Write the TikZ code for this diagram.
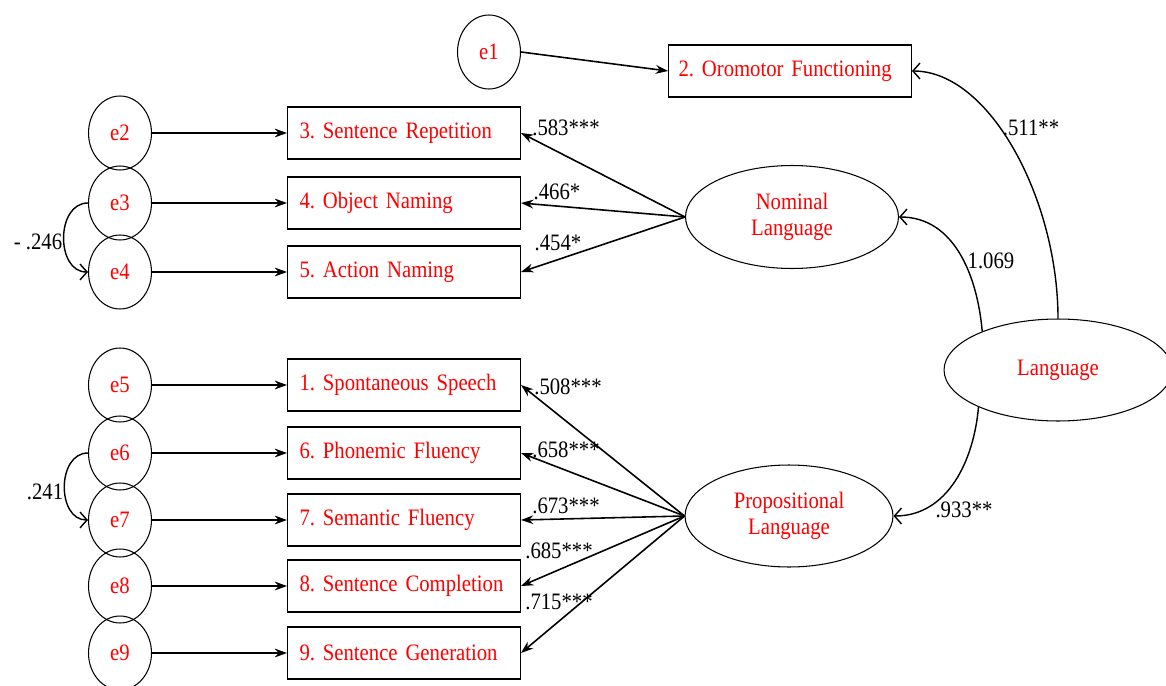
\documentclass[tikz,border=0pt]{standalone}
\usepackage{fontspec}
\setmainfont{Liberation Serif}[FakeStretch=0.88]
\usetikzlibrary{arrows.meta,shapes.geometric}
\tikzset{
  err/.style={ellipse, draw, line width=0.6pt, minimum width=1.26cm, minimum height=1.48cm, inner sep=0pt, text=red},
  obs/.style={rectangle, draw, line width=0.6pt, minimum width=4.66cm, minimum height=1.04cm, inner xsep=0.24cm, inner ysep=0pt, text width=4.18cm, align=left, text=red},
  lat/.style={ellipse, draw, line width=0.6pt, inner sep=0pt, align=center, text=red},
  charge/.style={-{Stealth[length=7pt,width=5pt]}, line width=0.9pt},
  courbe/.style={-{Straight Barb[length=4pt,width=9pt]}, line width=0.8pt},
  coef/.style={inner sep=0pt}
}

\begin{document}
\begin{tikzpicture}[x=0.02cm, y=-0.02cm, font=\fontsize{13.4}{15}\selectfont\frenchspacing]
	\useasboundingbox (0,0) rectangle (1166,686);
	% variables observees
	\node[obs, minimum width=4.86cm, text width=4.46cm, inner xsep=0.2cm] (r2) at (790,71) {2. Oromotor Functioning};
	\node[obs] (r3) at (404,133) {3. Sentence Repetition};
	\node[obs] (r4) at (404,203) {4. Object Naming};
	\node[obs] (r5) at (404,272) {5. Action Naming};
	\node[obs] (r1) at (404,385) {1. Spontaneous Speech};
	\node[obs] (r6) at (404,453) {6. Phonemic Fluency};
	\node[obs] (r7) at (404,520) {7. Semantic Fluency};
	\node[obs] (r8) at (404,586) {8. Sentence Completion};
	\node[obs] (r9) at (404,653) {9. Sentence Generation};
	% erreurs
	\node[err] (e1) at (489,52) {e1};
	\foreach \i/\r in {2/3, 3/4, 4/5, 5/1, 6/6, 7/7, 8/8, 9/9}
		\node[err] (e\i) at (120,0 |- r\r) {e\i};
	% variables latentes
	\node[lat, minimum width=4.26cm, minimum height=2.06cm] (nom) at (792,217) {Nominal\\Language};
	\node[lat, minimum width=4.16cm, minimum height=2.04cm] (prop) at (789,516) {Propositional\\Language};
	\node[lat, minimum width=4.56cm, minimum height=2.04cm] (lang) at (1058,370) {Language};
	% fleches des erreurs
	\draw[charge] (e1.east) -- (r2.west);
	\foreach \i/\r in {2/3, 3/4, 4/5, 5/1, 6/6, 7/7, 8/8, 9/9}
		\draw[charge] (e\i) -- (r\r);
	% covariances
	\draw[courbe] (e3.west) to[out=180, in=180, looseness=1.2] (e4.west);
	\draw[courbe] (e6.west) to[out=180, in=180, looseness=1.2] (e7.west);
	% saturations
	\foreach \r in {3,4,5}
		\draw[charge] (nom.west) -- (r\r.east);
	\foreach \r in {1,6,7,8,9}
		\draw[charge] (prop.west) -- (r\r.east);
	% second ordre
	\draw[courbe] (lang.north) .. controls (1058,200) and (990,71) .. (r2.east);
	\draw[courbe] (lang.153) to[out=95, in=0] (nom.east);
	\draw[courbe] (lang.205) to[out=-95, in=0] (prop.east);
	% coefficients
	\node[coef] (c583) at (566,128) {.583***};
	\node[coef] (c466) at (557,192) {.466*};
	\node[coef] (c454) at (558,243) {.454*};
	\node[coef] (c246) at (38,242) {- .246};
	\node[coef] (c508) at (568,387) {.508***};
	\node[coef] (c658) at (566,450) {.658***};
	\node[coef] (c673) at (566,506) {.673***};
	\node[coef] (c685) at (559,551) {.685***};
	\node[coef] (c715) at (559,602) {.715***};
	\node[coef] (c241) at (45,492) {.241};
	\node[coef] (c511) at (1031,128) {.511**};
	\node[coef] (c1069) at (991,261) {1.069};
	\node[coef] (c933) at (964,510) {.933**};
\end{tikzpicture}
\end{document}
